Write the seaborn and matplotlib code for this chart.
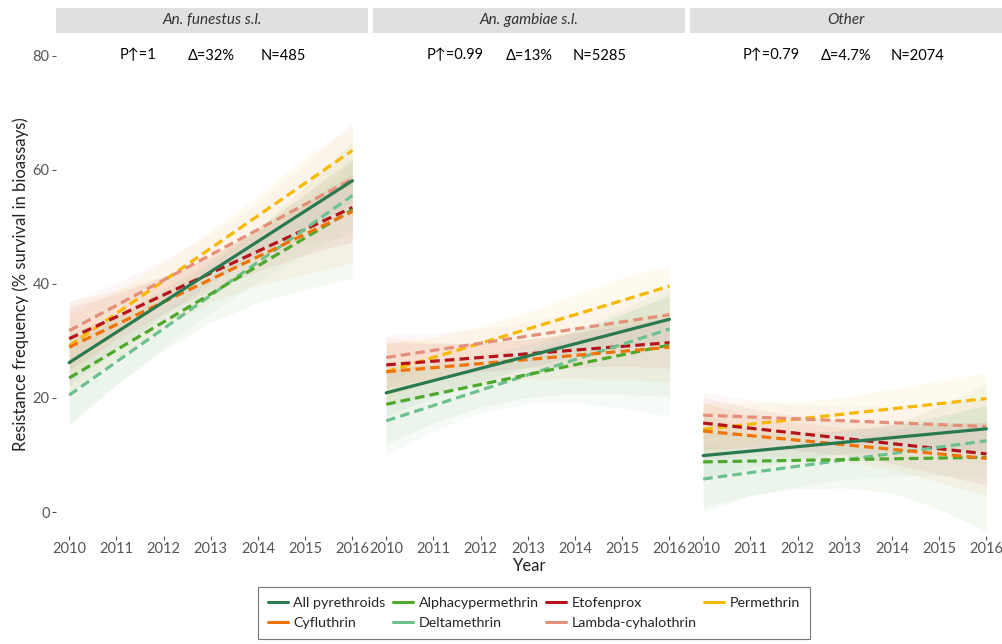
import pandas as pd
import numpy as np
import matplotlib.pyplot as plt
import seaborn as sns
from matplotlib.patches import Rectangle
from matplotlib.lines import Line2D

sns.set_style('white')
plt.rcParams['font.family'] = ['Lato', 'DejaVu Sans']

# ---- data ----
years = [2010, 2011, 2012, 2013, 2014, 2015, 2016]
species = ['An. funestus s.l.', 'An. gambiae s.l.', 'Other']
insecticides = ['All pyrethroids', 'Cyfluthrin', 'Alphacypermethrin', 'Deltamethrin',
                'Etofenprox', 'Lambda-cyhalothrin', 'Permethrin']
colors = ['#2b7a4f', '#f07306', '#4ea82c', '#6cc18c', '#b6131c', '#e48f7a', '#f6b800']
p_up = ['P\u2191=1', 'P\u2191=0.99', 'P\u2191=0.79']
delta = ['\u0394=32%', '\u0394=13%', '\u0394=4.7%']
n_obs = ['N=485', 'N=5285', 'N=2074']

# fitted trend at 2010 and 2016 (straight lines)
fun_fit = {'All pyrethroids': [26.2, 58.1], 'Cyfluthrin': [28.9, 52.7],
           'Alphacypermethrin': [23.5, 53.0], 'Deltamethrin': [20.5, 55.5],
           'Etofenprox': [30.4, 53.4], 'Lambda-cyhalothrin': [31.8, 58.4],
           'Permethrin': [29.1, 63.4]}
gam_fit = {'All pyrethroids': [20.9, 33.8], 'Cyfluthrin': [24.6, 28.9],
           'Alphacypermethrin': [18.9, 29.3], 'Deltamethrin': [16.0, 32.1],
           'Etofenprox': [25.8, 29.7], 'Lambda-cyhalothrin': [27.1, 34.6],
           'Permethrin': [24.6, 39.6]}
oth_fit = {'All pyrethroids': [9.9, 14.6], 'Cyfluthrin': [14.2, 9.4],
           'Alphacypermethrin': [8.8, 9.6], 'Deltamethrin': [5.8, 12.5],
           'Etofenprox': [15.6, 10.2], 'Lambda-cyhalothrin': [17.0, 15.0],
           'Permethrin': [14.5, 19.9]}

# confidence bands, lower / upper per year
fun_lo = {'All pyrethroids': [22.2, 28.5, 34.5, 40.2, 45.2, 49.8, 54.1],
          'Cyfluthrin': [20.9, 26.9, 32.3, 36.8, 39.8, 41.7, 43.7],
          'Alphacypermethrin': [15.5, 22.4, 28.3, 33.3, 36.7, 39.1, 41.0],
          'Deltamethrin': [15.0, 22.3, 29.0, 35.0, 40.3, 45.2, 49.5],
          'Etofenprox': [24.9, 30.2, 34.9, 38.9, 42.2, 45.1, 47.4],
          'Lambda-cyhalothrin': [26.8, 32.2, 37.2, 41.6, 45.0, 47.0, 48.4],
          'Permethrin': [23.6, 30.8, 37.3, 43.3, 48.5, 53.2, 57.4]}
fun_hi = {'All pyrethroids': [30.2, 34.5, 39.1, 44.2, 49.8, 55.8, 62.1],
          'Cyfluthrin': [36.9, 38.9, 41.3, 44.8, 49.8, 55.7, 61.7],
          'Alphacypermethrin': [31.5, 34.4, 38.3, 43.3, 49.7, 57.1, 65.0],
          'Deltamethrin': [26.0, 30.3, 35.4, 41.0, 47.3, 54.2, 61.5],
          'Etofenprox': [35.9, 38.2, 41.3, 44.9, 49.2, 54.1, 59.4],
          'Lambda-cyhalothrin': [36.8, 40.2, 44.2, 48.6, 54.0, 61.0, 68.4],
          'Permethrin': [34.6, 38.8, 43.7, 49.3, 55.5, 62.2, 67.5]}
gam_lo = {'All pyrethroids': [16.9, 20.1, 22.9, 25.4, 27.2, 28.7, 29.8],
          'Cyfluthrin': [18.6, 20.8, 22.5, 23.3, 23.5, 23.2, 22.9],
          'Alphacypermethrin': [11.9, 15.6, 18.4, 20.1, 20.8, 20.6, 20.3],
          'Deltamethrin': [10.0, 14.2, 17.4, 19.1, 19.2, 18.2, 16.8],
          'Etofenprox': [21.8, 23.5, 24.6, 25.3, 25.4, 25.6, 25.2],
          'Lambda-cyhalothrin': [23.1, 25.4, 27.1, 28.4, 29.1, 29.4, 29.6],
          'Permethrin': [19.6, 23.6, 26.6, 29.1, 31.1, 32.6, 34.1]}
gam_hi = {'All pyrethroids': [24.9, 26.1, 27.5, 29.4, 31.8, 34.7, 37.8],
          'Cyfluthrin': [30.6, 29.8, 29.5, 30.3, 31.5, 33.2, 34.9],
          'Alphacypermethrin': [25.9, 25.6, 26.4, 28.1, 30.8, 34.6, 38.3],
          'Deltamethrin': [22.0, 23.2, 25.4, 28.5, 31.8, 35.5, 39.5],
          'Etofenprox': [29.8, 29.5, 29.6, 30.3, 31.4, 32.6, 34.2],
          'Lambda-cyhalothrin': [31.1, 31.4, 32.1, 33.4, 35.1, 37.4, 39.6],
          'Permethrin': [29.6, 30.6, 32.6, 35.1, 38.1, 41.1, 43.3]}
oth_lo = {'All pyrethroids': [5.9, 7.7, 9.2, 10.3, 10.7, 10.8, 10.6],
          'Cyfluthrin': [9.2, 9.9, 9.6, 8.8, 7.5, 5.2, 2.9],
          'Alphacypermethrin': [0.8, 2.9, 4.1, 4.2, 3.3, 0.5, -3.4],
          'Deltamethrin': [-0.2, 2.9, 4.5, 5.7, 6.3, 6.4, 6.0],
          'Etofenprox': [11.1, 11.2, 10.8, 9.9, 8.5, 6.6, 4.7],
          'Lambda-cyhalothrin': [13.0, 13.7, 13.8, 13.5, 12.7, 11.3, 10.0],
          'Permethrin': [10.0, 11.9, 13.3, 14.2, 14.6, 15.0, 15.4]}
oth_hi = {'All pyrethroids': [13.9, 13.7, 13.8, 14.3, 15.3, 16.8, 18.6],
          'Cyfluthrin': [19.2, 16.9, 15.6, 14.8, 14.5, 15.2, 15.9],
          'Alphacypermethrin': [16.8, 14.9, 14.1, 14.2, 15.3, 18.5, 22.6],
          'Deltamethrin': [11.8, 10.9, 11.5, 12.7, 14.3, 16.4, 19.0],
          'Etofenprox': [20.1, 18.2, 16.8, 15.9, 15.5, 15.6, 15.7],
          'Lambda-cyhalothrin': [21.0, 19.7, 18.8, 18.5, 18.7, 19.3, 20.0],
          'Permethrin': [19.0, 18.9, 19.3, 20.2, 21.6, 23.0, 24.4]}

fits = [fun_fit, gam_fit, oth_fit]
lows = [fun_lo, gam_lo, oth_lo]
highs = [fun_hi, gam_hi, oth_hi]

palette = dict(zip(insecticides, colors))
dashes = {k: (3, 1.6) for k in insecticides}
dashes['All pyrethroids'] = ''

fig = plt.figure(figsize=(10.03, 6.44), dpi=100)
lefts = [0.0558, 0.3719, 0.6879]
axes = [fig.add_axes([l, 0.1677, 0.3111, 0.7811]) for l in lefts]

for i, ax in enumerate(axes):
    # ribbons
    for ins in insecticides:
        ax.fill_between(years, lows[i][ins], highs[i][ins], color=palette[ins],
                        alpha=0.06, linewidth=0)
    # trend lines
    df = pd.DataFrame([(ins, yr, v) for ins in insecticides
                       for yr, v in zip([years[0], years[-1]], fits[i][ins])],
                      columns=['insecticide', 'year', 'fit'])
    sns.lineplot(data=df, x='year', y='fit', hue='insecticide', style='insecticide',
                 palette=palette, dashes=dashes, hue_order=insecticides[::-1],
                 linewidth=2.3, legend=False, ax=ax)

    ax.set_xlim(2009.72, 2016.33)
    ax.set_ylim(-4.2, 84)
    ax.set_xticks(years)
    ax.set_yticks([0, 20, 40, 60, 80])
    ax.set_xlabel('')
    ax.set_ylabel('')
    ax.tick_params(axis='both', bottom=True, left=True, length=3, width=0.8,
                   color='#555555', labelcolor='#555555', labelsize=10.5, pad=1.5)
    if i > 0:
        ax.tick_params(axis='y', left=False, labelleft=False)
    for s in ax.spines.values():
        s.set_visible(False)

    # facet strip
    ax.add_patch(Rectangle((0, 1.0), 1, 0.05, transform=ax.transAxes,
                           facecolor='#e0e0e0', edgecolor='none', clip_on=False))
    ax.text(0.5, 1.025, species[i], transform=ax.transAxes, ha='center', va='center',
            style='italic', fontsize=11, color='#333333')

    # annotations
    for xp, txt in zip([2011.45, 2013.02, 2014.53], [p_up[i], delta[i], n_obs[i]]):
        ax.text(xp, 80, txt, ha='center', va='center', fontsize=10.5, color='#000000',
                family=['Lato', 'DejaVu Sans'])

axes[0].set_ylabel('Resistance frequency (% survival in bioassays)', fontsize=12,
                   color='#222222', labelpad=3)
fig.text(0.528, 0.121, 'Year', ha='center', va='center', fontsize=12, color='#222222')

handles = [Line2D([], [], color=palette[k], lw=2.2) for k in insecticides]
leg = fig.legend(handles, insecticides, ncol=4, loc='upper center',
                 bbox_to_anchor=(0.532, 0.100), frameon=True, fontsize=10.3,
                 handlelength=1.4, handletextpad=0.4, columnspacing=0.5,
                 borderpad=0.7, labelspacing=0.55, fancybox=False)
leg.get_frame().set_edgecolor('#555555')
leg.get_frame().set_linewidth(0.8)

fig.savefig('out.png', dpi=100)
